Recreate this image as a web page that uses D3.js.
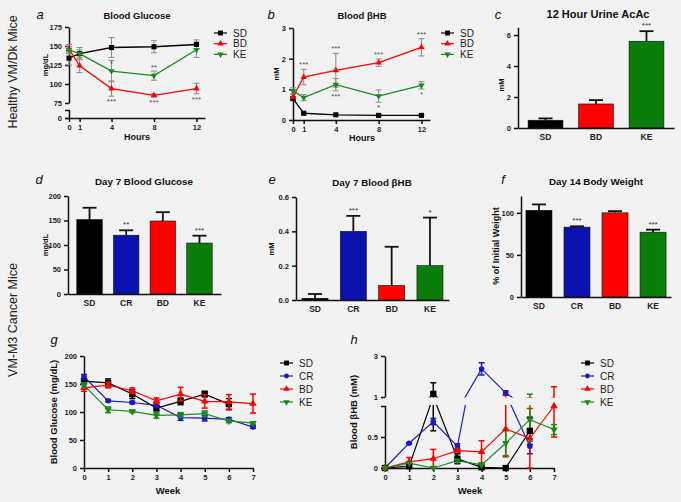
<!DOCTYPE html>
<html><head><meta charset="utf-8">
<script src="https://cdn.jsdelivr.net/npm/d3@7"></script>
<style>
body{margin:0;background:#f2f2f2}
svg{display:block;font-family:"Liberation Sans",Arial,sans-serif}
</style></head><body>
<svg id="c" width="681" height="502"></svg>
<script>
// ---------- data ----------
const hours = [0, 1, 4, 8, 12];
const aSD = [134, 140, 148, 149, 152], aSDe = [9, 8, 13, 8, 6];
const aBD = [146, 124, 94, 85, 94],    aBDe = [6, 9, 10, 2, 7];
const aKE = [145, 140, 117, 111, 145], aKEe = [4, 5, 14, 6, 10];

const bSD = [0.70, 0.22, 0.17, 0.15, 0.15], bSDe = [0.05, 0.03, 0.02, 0.02, 0.02];
const bBD = [0.75, 1.40, 1.62, 1.87, 2.37], bBDe = [0.1, 0.25, 0.55, 0.12, 0.28];
const bKE = [0.95, 0.73, 1.15, 0.78, 1.13], bKEe = [0.1, 0.1, 0.2, 0.2, 0.12];

const cCats = ["SD", "BD", "KE"];
const cVals = [0.5, 1.55, 5.6], cErrs = [0.12, 0.25, 0.65];

const dCats = ["SD", "CR", "BD", "KE"];
const dVals = [152, 120, 149, 104], dErrs = [24, 10, 18, 15];
const eVals = [0.01, 0.40, 0.085, 0.20], eErrs = [0.025, 0.09, 0.225, 0.28];
const fVals = [103, 83, 100, 77], fErrs = [7, 1, 2, 3];

const weeks = [0, 1, 2, 3, 4, 5, 6, 7];
const gSD = [155, 152, 132, 107, 119, 132, 114, null], gSDe = [5, 7, 8, 5, 6, 5, 10, null];
const gCR = [163, 120, 117, 112, 90, 89, 87, 73],      gCRe = [4, 2, 2, 4, 5, 5, 3, 2];
const gBD = [143, 148, 138, 120, 132, 119, 118, 115],  gBDe = [6, 5, 5, 5, 12, 12, 13, 17];
const gKE = [148, 104, 101, 94, 95, 97, 84, 80],       gKEe = [4, 5, 2, 5, 4, 5, 3, 2];

const hSD = [0, 0.03, 1.15, 0.15, 0.01, 0, 0.6, null],     hSDe = [0, 0.02, 0.55, 0.08, 0.01, 0, 0.22, null];
const hCR = [0, 0.40, 0.75, 0.35, 2.37, 1.2, 0.35, null],  hCRe = [0, 0.01, 0.05, 0.04, 0.3, 0.1, 0.12, null];
const hBD = [0, 0.10, 0.15, 0.28, 0.26, 0.63, 0.48, 1.0],  hBDe = [0, 0.07, 0.15, 0.02, 0.18, 0.45, 0.48, 0.5];
const hKE = [0, 0.08, 0, 0.12, 0.05, 0.40, 0.78, 0.62],    hKEe = [0, 0.02, 0, 0.02, 0.03, 0.2, 0.35, 0.08];

const aTicks = [75, 100, 125, 150, 175];
const bTicks = [0, 1, 2, 3];
// ---------- styling ----------
const COL = {SD: "#000000", CR: "#1a1ac4", BD: "#ff0000", KE: "#1b8a1b"};
const BAR = {SD: "#000000", CR: "#0c12b0", BD: "#ff0000", KE: "#0b7d0b"};
const SHAPE = {SD: d3.symbolSquare, CR: d3.symbolCircle, BD: d3.symbolTriangle, KE: "down"};
const fmtInt = d3.format("d");

const svg = d3.select("#c");
svg.append("rect").attr("width", 681).attr("height", 502).attr("fill", "#f2f2f2");

function styleAxis(g) {
  g.selectAll("path.domain").attr("stroke", "#111").attr("stroke-width", 1.5);
  g.selectAll(".tick line").attr("stroke", "#111").attr("stroke-width", 1.5);
  g.selectAll(".tick text").attr("font-size", 7.5).attr("font-weight", "bold").attr("fill", "#222")
    .attr("font-family", "Liberation Sans, Arial, sans-serif");
  return g;
}
function marker(g, name, x, y, size) {
  if (SHAPE[name] === "down") {
    g.append("path").attr("d", d3.symbol(d3.symbolTriangle, size)())
      .attr("transform", `translate(${x},${y}) rotate(180)`).attr("fill", COL[name]);
    return;
  }
  g.append("path").attr("d", d3.symbol(SHAPE[name], size)()).attr("transform", `translate(${x},${y})`).attr("fill", COL[name]);
}
function errBar(g, x, y1, y2, color, w, cap) {
  g.append("line").attr("x1", x).attr("x2", x).attr("y1", y1).attr("y2", y2).attr("stroke", color).attr("stroke-width", w);
  [y1, y2].forEach(y => g.append("line").attr("x1", x - cap).attr("x2", x + cap).attr("y1", y).attr("y2", y)
    .attr("stroke", color).attr("stroke-width", w));
}
function text(x, y, s, opts = {}) {
  const t = svg.append("text").attr("x", x).attr("y", y).text(s)
    .attr("font-size", opts.size || 10).attr("font-weight", opts.bold ? "bold" : "normal")
    .attr("font-style", opts.italic ? "italic" : "normal")
    .attr("text-anchor", opts.anchor || "middle").attr("fill", opts.fill || "#111");
  if (opts.rotate) t.attr("transform", `rotate(-90,${x},${y})`);
  return t;
}
function legend(x, y, names, step) {
  names.forEach((n, i) => {
    const yy = y + i * step;
    svg.append("line").attr("x1", x).attr("x2", x + 13).attr("y1", yy).attr("y2", yy).attr("stroke", COL[n]).attr("stroke-width", 1.2);
    marker(svg, n, x + 6.5, yy, n === "SD" ? 24 : 18);
    text(x + 19, yy + 3.5, n, {size: 10, anchor: "start", fill: "#222"});
  });
}

// ---------- Row labels ----------
text(17, 72, "Healthy VM/Dk Mice", {size: 12.5, rotate: true, fill: "#222"});
text(17, 320, "VM-M3 Cancer Mice", {size: 12.5, rotate: true, fill: "#222"});

// ---------- Panel a ----------
{
  const x = d3.scaleLinear([0, 12.8], [69, 205]);
  const yU = d3.scaleLinear([75, 175], [103, 27]);
  const yL = d3.scaleLinear([0, 10], [118, 110]);
  styleAxis(svg.append("g").attr("transform", "translate(69,0)").call(d3.axisLeft(yU).tickValues(aTicks).tickFormat(fmtInt).tickSize(4).tickSizeOuter(0)));
  styleAxis(svg.append("g").attr("transform", "translate(69,0)").call(d3.axisLeft(yL).tickValues([0]).tickFormat(fmtInt).tickSize(4).tickSizeOuter(4)));
  styleAxis(svg.append("g").attr("transform", "translate(0,118)").call(d3.axisBottom(x).tickValues(hours).tickFormat(fmtInt).tickSize(4).tickSizeOuter(0)));
  const g = svg.append("g");
  const ser = [["SD", aSD, aSDe], ["BD", aBD, aBDe], ["KE", aKE, aKEe]];
  ser.forEach(([n, v, e]) => v.forEach((d, i) => errBar(g, x(hours[i]), yU(d - e[i]), yU(d + e[i]), "#8a8a8a", 1, 3)));
  ser.forEach(([n, v]) => {
    g.append("path").datum(v).attr("fill", "none").attr("stroke", COL[n]).attr("stroke-width", 1.3)
      .attr("d", d3.line().x((d, i) => x(hours[i])).y(d => yU(d)));
    v.forEach((d, i) => marker(g, n, x(hours[i]), yU(d), n === "SD" ? 26 : 18));
  });
  [2, 3, 4].forEach(i => text(x(hours[i]), yU(aBD[i] - aBDe[i]) + 8, "***", {size: 8, fill: "#555"}));
  text(x(4), yU(aKE[2] + aKEe[2]) + 6, "*", {size: 8, fill: "#555"});
  text(x(8), yU(aKE[3] + aKEe[3]) - 1, "**", {size: 8, fill: "#555"});
  text(137, 19, "Blood Glucose", {size: 9.5, bold: true});
  text(40, 19, "a", {size: 13, italic: true});
  text(48, 65, "mg/dL", {size: 7.5, bold: true, rotate: true});
  text(137, 140, "Hours", {size: 9, bold: true});
  legend(214, 33, ["SD", "BD", "KE"], 10.7);
}

// ---------- Panel b ----------
{
  const x = d3.scaleLinear([0, 12.8], [293, 430]);
  const y = d3.scaleLinear([0, 3], [120, 28]);
  styleAxis(svg.append("g").attr("transform", "translate(293,0)").call(d3.axisLeft(y).tickValues(bTicks).tickFormat(fmtInt).tickSize(4).tickSizeOuter(0)));
  styleAxis(svg.append("g").attr("transform", "translate(0,120)").call(d3.axisBottom(x).tickValues(hours).tickFormat(fmtInt).tickSize(4).tickSizeOuter(0)));
  const g = svg.append("g");
  const ser = [["SD", bSD, bSDe], ["BD", bBD, bBDe], ["KE", bKE, bKEe]];
  ser.forEach(([n, v, e]) => v.forEach((d, i) => errBar(g, x(hours[i]), y(d - e[i]), y(d + e[i]), "#8a8a8a", 1, 3)));
  ser.forEach(([n, v]) => {
    g.append("path").datum(v).attr("fill", "none").attr("stroke", COL[n]).attr("stroke-width", 1.3)
      .attr("d", d3.line().x((d, i) => x(hours[i])).y(d => y(d)));
    v.forEach((d, i) => marker(g, n, x(hours[i]), y(d), n === "SD" ? 26 : 18));
  });
  [1, 2, 3, 4].forEach(i => text(x(hours[i]), y(bBD[i] + bBDe[i]) - 2, "***", {size: 8, fill: "#555"}));
  text(x(4), y(bKE[2] - bKEe[2]) + 8, "***", {size: 8, fill: "#555"});
  text(x(8), y(bKE[3] - bKEe[3]) + 8, "*", {size: 8, fill: "#555"});
  text(x(12), y(bKE[4] - bKEe[4]) + 8, "*", {size: 8, fill: "#555"});
  text(362, 19, "Blood \u03b2HB", {size: 9.5, bold: true});
  text(271, 19, "b", {size: 13, italic: true});
  text(279, 74, "mM", {size: 7.5, bold: true, rotate: true});
  text(362, 141, "Hours", {size: 9, bold: true});
  legend(441, 33, ["SD", "BD", "KE"], 10.7);
}

// ---------- Bar panels ----------
function barPanel(cats, vals, errs, o) {
  const x = d3.scaleBand(cats, [o.x0, o.x1]).paddingInner(o.pi).paddingOuter(o.po);
  const y = d3.scaleLinear(o.yd, [o.y0, o.yTop]);
  const g = svg.append("g");
  cats.forEach((c, i) => {
    const cx = x(c) + x.bandwidth() / 2;
    g.append("line").attr("x1", cx).attr("x2", cx).attr("y1", y(vals[i])).attr("y2", y(vals[i] + errs[i])).attr("stroke", "#111").attr("stroke-width", 1.8);
    g.append("line").attr("x1", cx - 7).attr("x2", cx + 7).attr("y1", y(vals[i] + errs[i])).attr("y2", y(vals[i] + errs[i])).attr("stroke", "#111").attr("stroke-width", 1.8);
    g.append("rect").attr("x", x(c)).attr("y", y(vals[i])).attr("width", x.bandwidth()).attr("height", o.y0 - y(vals[i]))
      .attr("fill", BAR[c]).attr("stroke", "#111").attr("stroke-width", 0.6);
    if (o.stars && o.stars[i]) text(cx, y(vals[i] + errs[i]) - 3, o.stars[i], {size: 8, fill: "#333"});
  });
  styleAxis(svg.append("g").attr("transform", `translate(${o.x0},0)`).call(d3.axisLeft(y).tickValues(o.ticks).tickFormat(o.fmt || fmtInt).tickSize(4).tickSizeOuter(0)));
  const ax = styleAxis(svg.append("g").attr("transform", `translate(0,${o.y0})`).call(d3.axisBottom(x).tickSize(0).tickSizeOuter(0).tickPadding(6)));
  ax.selectAll(".tick text").attr("font-size", 8.5);
  return {x, y};
}

barPanel(cCats, cVals, cErrs, {x0: 518, x1: 674, pi: 0.31, po: 0.2, yd: [0, 6.5], y0: 128, yTop: 27.3, ticks: [0, 2, 4, 6], stars: ["", "", "***"]});
text(598, 18, "12 Hour Urine AcAc", {size: 11, bold: true});
text(498, 19, "c", {size: 13, italic: true});
text(504, 85, "mM", {size: 7.5, bold: true, rotate: true});

barPanel(dCats, dVals, dErrs, {x0: 68, x1: 221, pi: 0.305, po: 0.24, yd: [0, 200], y0: 294, yTop: 196, ticks: [0, 50, 100, 150, 200], stars: ["", "**", "", "***"]});
text(144, 185, "Day 7 Blood Glucose", {size: 9.8, bold: true});
text(39, 184, "d", {size: 13, italic: true});
text(48, 245, "mg/dL", {size: 7.5, bold: true, rotate: true});

barPanel(dCats, eVals, eErrs, {x0: 296, x1: 449, pi: 0.32, po: 0.157, yd: [0, 0.6], y0: 300, yTop: 197, ticks: [0, 0.2, 0.4, 0.6], fmt: d3.format(".1f"), stars: ["", "***", "", "*"]});
text(372, 186, "Day 7 Blood \u03b2HB", {size: 9.8, bold: true});
text(272, 184, "e", {size: 13, italic: true});
text(274, 249, "mM", {size: 7.5, bold: true, rotate: true});

barPanel(dCats, fVals, fErrs, {x0: 521, x1: 671, pi: 0.316, po: 0.13, yd: [0, 120], y0: 297, yTop: 196, ticks: [0, 50, 100], stars: ["", "***", "", "***"]});
text(596, 185, "Day 14 Body Weight", {size: 9.8, bold: true});
text(503, 184, "f", {size: 13, italic: true});
text(499, 246, "% of Initial Weight", {size: 9, bold: true, rotate: true});

// ---------- Panel g ----------
{
  const x = d3.scaleLinear([0, 7], [84, 253]);
  const y = d3.scaleLinear([0, 200], [468, 356]);
  styleAxis(svg.append("g").attr("transform", "translate(84,0)").call(d3.axisLeft(y).tickValues([0, 50, 100, 150, 200]).tickFormat(fmtInt).tickSize(4).tickSizeOuter(0)));
  styleAxis(svg.append("g").attr("transform", "translate(0,468)").call(d3.axisBottom(x).tickValues(weeks).tickFormat(fmtInt).tickSize(4).tickSizeOuter(0)));
  const g = svg.append("g");
  const ser = [["SD", gSD, gSDe], ["CR", gCR, gCRe], ["BD", gBD, gBDe], ["KE", gKE, gKEe]];
  ser.forEach(([n, v]) => g.append("path").datum(v).attr("fill", "none").attr("stroke", COL[n]).attr("stroke-width", 1.2)
    .attr("d", d3.line().defined(d => d != null).x((d, i) => x(weeks[i])).y(d => y(d))));
  ser.forEach(([n, v, e]) => v.forEach((d, i) => { if (d != null) {
    errBar(g, x(weeks[i]), y(d - e[i]), y(d + e[i]), COL[n], 1.5, 3);
    marker(g, n, x(weeks[i]), y(d), n === "SD" ? 40 : 24);
  }}));
  text(54, 344, "g", {size: 13, italic: true});
  text(57, 412, "Blood Glucose (mg/dL)", {size: 9.5, bold: true, rotate: true});
  text(168, 494, "Week", {size: 9.5, bold: true});
  legend(280, 363, ["SD", "CR", "BD", "KE"], 13);
}

// ---------- Panel h (broken axis) ----------
{
  const x = d3.scaleLinear([0, 7], [385, 554]);
  const yL = d3.scaleLinear([0, 1], [468, 406]);
  const yU = d3.scaleLinear([1, 3], [397, 356]);
  styleAxis(svg.append("g").attr("transform", "translate(385,0)").call(d3.axisLeft(yL).tickValues([0, 0.5]).tickFormat(d => d === 0 ? "0" : "0.5").tickSize(4).tickSizeOuter(4)));
  styleAxis(svg.append("g").attr("transform", "translate(385,0)").call(d3.axisLeft(yU).tickValues([1, 3]).tickFormat(fmtInt).tickSize(4).tickSizeOuter(0)));
  styleAxis(svg.append("g").attr("transform", "translate(0,468)").call(d3.axisBottom(x).tickValues(weeks).tickFormat(fmtInt).tickSize(4).tickSizeOuter(0)));
  const defs = svg.append("defs");
  defs.append("clipPath").attr("id", "clipL").append("rect").attr("x", 370).attr("y", 405).attr("width", 200).attr("height", 80);
  defs.append("clipPath").attr("id", "clipU").append("rect").attr("x", 370).attr("y", 340).attr("width", 200).attr("height", 57.5);
  const ser = [["SD", hSD, hSDe], ["CR", hCR, hCRe], ["BD", hBD, hBDe], ["KE", hKE, hKEe]];
  [[yL, "clipL"], [yU, "clipU"]].forEach(([ys, clip]) => {
    const g = svg.append("g").attr("clip-path", `url(#${clip})`);
    ser.forEach(([n, v, e]) => {
      g.append("path").datum(v).attr("fill", "none").attr("stroke", COL[n]).attr("stroke-width", 1.2)
        .attr("d", d3.line().defined(d => d != null).x((d, i) => x(weeks[i])).y(d => ys(d)));
      v.forEach((d, i) => { if (d != null && e[i] > 0) errBar(g, x(weeks[i]), ys(d - e[i]), ys(d + e[i]), COL[n], 1.5, 3); });
    });
  });
  const gm = svg.append("g");
  ser.forEach(([n, v]) => v.forEach((d, i) => { if (d != null)
    marker(gm, n, x(weeks[i]), d > 1 ? yU(d) : yL(d), n === "SD" ? 40 : 24); }));
  text(354, 344, "h", {size: 13, italic: true});
  text(357, 412, "Blood \u03b2HB (mM)", {size: 9.5, bold: true, rotate: true});
  text(470, 494, "Week", {size: 9.5, bold: true});
  legend(581, 363, ["SD", "CR", "BD", "KE"], 13);
}
</script></body></html>
